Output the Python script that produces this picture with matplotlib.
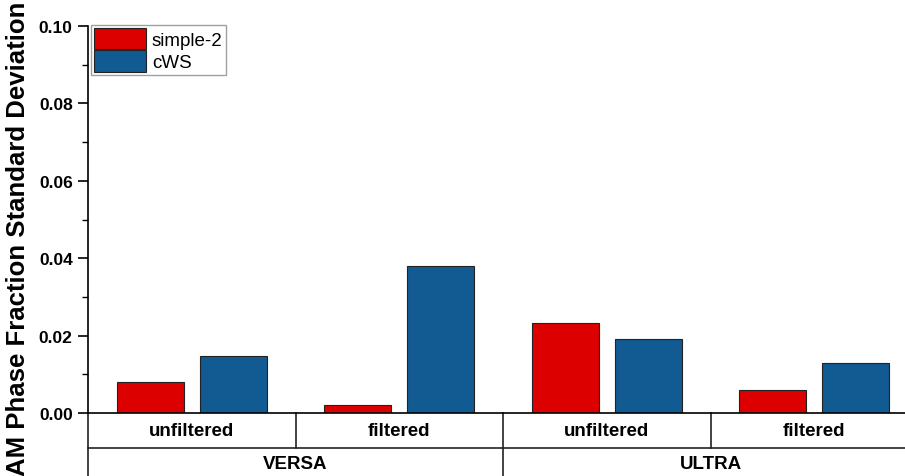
import matplotlib.pyplot as plt
import numpy as np

plt.rcParams['font.family'] = ['Liberation Sans', 'DejaVu Sans']

# data
instruments = ['VERSA', 'ULTRA']
modes = ['unfiltered', 'filtered']
simple2 = [0.0080, 0.0021, 0.0233, 0.0059]
cws = [0.0148, 0.0380, 0.0190, 0.0129]

red = '#dc0000'
blue = '#115b92'

W, H = 905, 477
fig = plt.figure(figsize=(W / 100, H / 100), dpi=100)
# axes run a little past the right edge of the figure
ax = fig.add_axes([88 / W, (H - 414) / H, 830 / W, (414 - 27) / H])

x = np.arange(len(simple2))
w = 0.323
ax.bar(x - 0.2, simple2, w, color=red, edgecolor='#222222', linewidth=0.8, label='simple-2')
ax.bar(x + 0.2, cws, w, color=blue, edgecolor='#222222', linewidth=0.8, label='cWS')

ax.set_xlim(-0.5, 3.5)
ax.set_ylim(0, 0.10)
ax.set_yticks(np.arange(0, 0.101, 0.02))
ax.set_yticks(np.arange(0.01, 0.1, 0.02), minor=True)
ax.set_yticklabels(['%.2f' % v for v in np.arange(0, 0.101, 0.02)],
                   fontsize=12.5, fontweight='bold')
ax.tick_params(axis='y', which='major', direction='out', length=7, width=1.2, pad=4)
ax.tick_params(axis='y', which='minor', direction='out', length=4, width=1.0)
ax.set_xticks([])
for s in ['top', 'right']:
    ax.spines[s].set_visible(False)
ax.spines['left'].set_linewidth(1.2)
ax.spines['bottom'].set_linewidth(1.2)

# two-level category table under the axis
y1 = -0.00904
y2 = -0.0175
lk = dict(color='#222222', linewidth=1.2, clip_on=False)
ax.plot([-0.5, -0.5], [0, y2], **lk)
ax.plot([-0.5, 3.6], [y1, y1], **lk)
for b in [0.5, 1.5, 2.5]:
    ax.plot([b, b], [0, y1], **lk)
ax.plot([1.5, 1.5], [y1, y2], **lk)

for i in range(len(simple2)):
    ax.text(x[i], y1 / 2, modes[i % 2], ha='center', va='center',
            fontsize=13.5, fontweight='bold')
for j, name in enumerate(instruments):
    ax.text(0.5 + 2 * j, (y1 - 0.0163) / 2 - 0.0003, name, ha='center', va='center',
            fontsize=13.5, fontweight='bold')

fig.text(18 / W, 0.5, 'AM Phase Fraction Standard Deviation', rotation=90,
         ha='center', va='center', fontsize=18.5, fontweight='bold')

leg = ax.legend(loc='upper left', bbox_to_anchor=(91 / W, 1 - 26 / H),
                bbox_transform=fig.transFigure, fontsize=13.5, frameon=True,
                fancybox=False, edgecolor='#888888', borderpad=0.15,
                handlelength=2.8, handleheight=1.4, handletextpad=0.3,
                labelspacing=0.05, borderaxespad=0)
leg.get_frame().set_linewidth(1.0)

fig.savefig('out.png', dpi=100)
